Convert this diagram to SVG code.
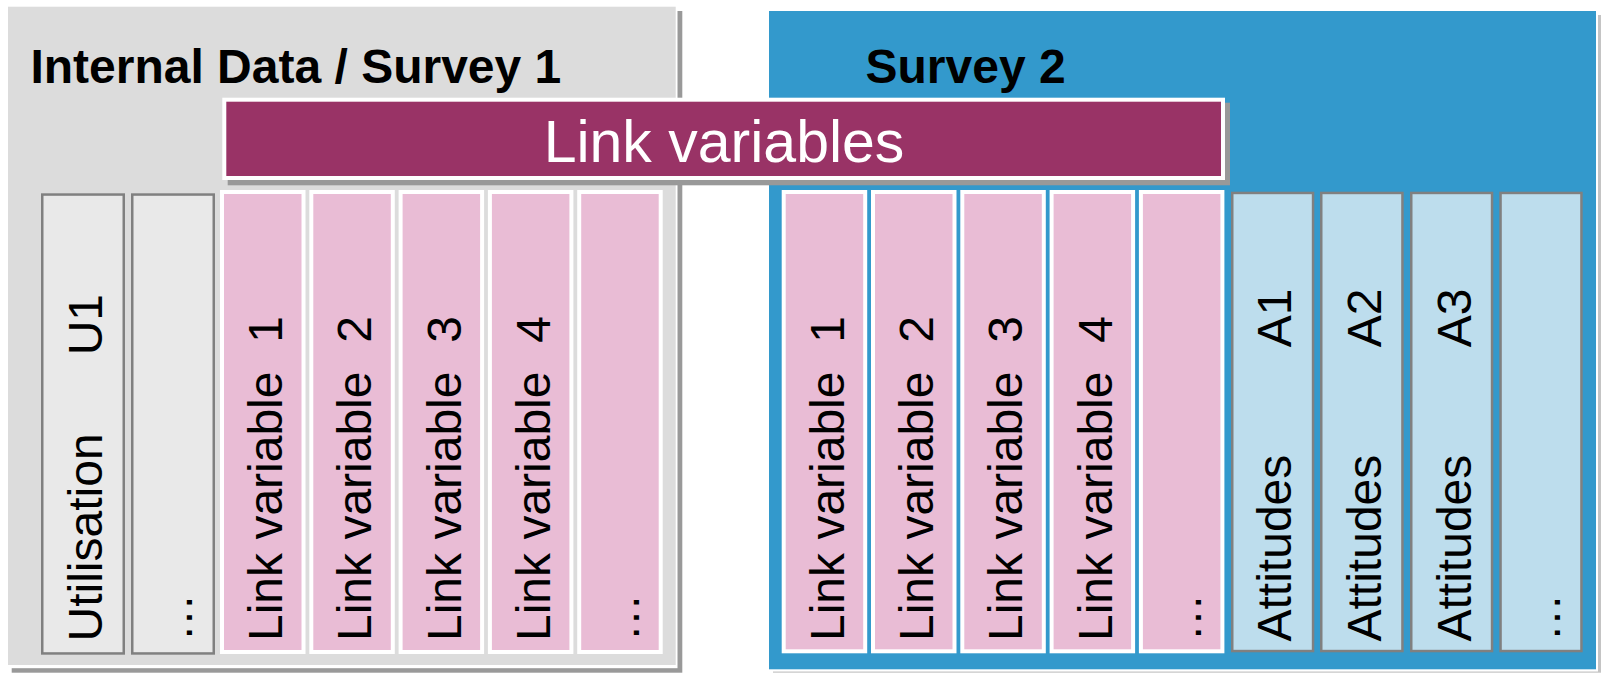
<svg xmlns="http://www.w3.org/2000/svg" width="1602" height="673" viewBox="0 0 1602 673">
<style>
.title{font-family:"Liberation Sans",Arial,sans-serif;font-weight:bold;font-size:48px;fill:#000}
.banner{font-family:"Liberation Sans",Arial,sans-serif;font-size:59px;fill:#fff}
.vt{font-family:"Liberation Sans",Arial,sans-serif;font-size:48px;fill:#000}
.gcol{fill:#e9e9e9;stroke:#808080;stroke-width:2.5}
.bcol{fill:#bddded;stroke:#808080;stroke-width:2.5}
.pcol{fill:#e9bcd5;stroke:#fff;stroke-width:4}
</style>
<rect width="1602" height="673" fill="#fff"/>
<g id="panel-internal">
  <rect x="11.7" y="11" width="670.6" height="661.7" fill="#999"/>
  <rect x="7" y="5.7" width="670.5" height="662.5" fill="#fff"/>
  <rect x="8" y="6.7" width="667.7" height="658.3" fill="#dcdcdc"/>
  <text class="title" x="30.4" y="82.7">Internal Data / Survey 1</text>
</g>
<g id="panel-survey2">
  <rect x="773" y="15" width="828" height="657.7" fill="#c4c4c4"/>
  <rect x="768" y="10" width="830" height="661.5" fill="#fff"/>
  <rect x="769" y="11" width="827" height="658.3" fill="#3399cc"/>
  <text class="title" x="865.5" y="82.7">Survey 2</text>
</g>
<g id="col-utilisation">
  <rect class="gcol" x="42.25" y="194.55" width="81.5" height="458.9"/>
  <text class="vt" transform="translate(101.8,641.5) rotate(-90)">Utilisation<tspan x="347.5" text-anchor="end">U1</tspan></text>
</g>
<g id="col-internal-more">
  <rect class="gcol" x="132.25" y="194.55" width="81.5" height="458.9"/>
  <text class="vt" transform="translate(192,641.5) rotate(-90)">…</text>
</g>
<g id="s1-link1">
  <rect class="pcol" x="222" y="192" width="81.5" height="460"/>
  <text class="vt" transform="translate(282,641) rotate(-90)">Link variable<tspan x="325" text-anchor="end">1</tspan></text>
</g>
<g id="s1-link2">
  <rect class="pcol" x="311.3" y="192" width="81.5" height="460"/>
  <text class="vt" transform="translate(371.3,641) rotate(-90)">Link variable<tspan x="325" text-anchor="end">2</tspan></text>
</g>
<g id="s1-link3">
  <rect class="pcol" x="400.6" y="192" width="81.5" height="460"/>
  <text class="vt" transform="translate(460.6,641) rotate(-90)">Link variable<tspan x="325" text-anchor="end">3</tspan></text>
</g>
<g id="s1-link4">
  <rect class="pcol" x="489.9" y="192" width="81.5" height="460"/>
  <text class="vt" transform="translate(549.9,641) rotate(-90)">Link variable<tspan x="325" text-anchor="end">4</tspan></text>
</g>
<g id="s1-link-more">
  <rect class="pcol" x="579.2" y="192" width="81.5" height="460"/>
  <text class="vt" transform="translate(639.2,641.5) rotate(-90)">…</text>
</g>
<g id="s2-link1">
  <rect class="pcol" x="783.7" y="192" width="81.5" height="459.3"/>
  <text class="vt" transform="translate(843.6,641) rotate(-90)">Link variable<tspan x="325" text-anchor="end">1</tspan></text>
</g>
<g id="s2-link2">
  <rect class="pcol" x="873" y="192" width="81.5" height="459.3"/>
  <text class="vt" transform="translate(932.9,641) rotate(-90)">Link variable<tspan x="325" text-anchor="end">2</tspan></text>
</g>
<g id="s2-link3">
  <rect class="pcol" x="962.3" y="192" width="81.5" height="459.3"/>
  <text class="vt" transform="translate(1022.2,641) rotate(-90)">Link variable<tspan x="325" text-anchor="end">3</tspan></text>
</g>
<g id="s2-link4">
  <rect class="pcol" x="1051.6" y="192" width="81.5" height="459.3"/>
  <text class="vt" transform="translate(1111.5,641) rotate(-90)">Link variable<tspan x="325" text-anchor="end">4</tspan></text>
</g>
<g id="s2-link-more">
  <rect class="pcol" x="1140.9" y="192" width="81.5" height="459.3"/>
  <text class="vt" transform="translate(1200.5,641.5) rotate(-90)">…</text>
</g>
<g id="att1">
  <rect class="bcol" x="1232.25" y="192.95" width="80.8" height="458.1"/>
  <text class="vt" transform="translate(1291.2,641.5) rotate(-90)">Attitudes<tspan x="353" text-anchor="end">A1</tspan></text>
</g>
<g id="att2">
  <rect class="bcol" x="1321.25" y="192.95" width="81.2" height="458.1"/>
  <text class="vt" transform="translate(1380.8,641.5) rotate(-90)">Attitudes<tspan x="353" text-anchor="end">A2</tspan></text>
</g>
<g id="att3">
  <rect class="bcol" x="1411.25" y="192.95" width="80.8" height="458.1"/>
  <text class="vt" transform="translate(1470.7,641.5) rotate(-90)">Attitudes<tspan x="353" text-anchor="end">A3</tspan></text>
</g>
<g id="att-more">
  <rect class="bcol" x="1500.55" y="192.95" width="80.9" height="458.1"/>
  <text class="vt" transform="translate(1559.5,641.5) rotate(-90)">…</text>
</g>
<g id="link-variables-banner">
  <rect x="227.7" y="102.7" width="1002.3" height="82.6" fill="#999"/>
  <rect x="224.3" y="99.7" width="998.7" height="78.3" fill="#993366" stroke="#fff" stroke-width="4"/>
  <text class="banner" x="724" y="161.7" text-anchor="middle">Link variables</text>
</g>
<g id="connectors"/>
</svg>
